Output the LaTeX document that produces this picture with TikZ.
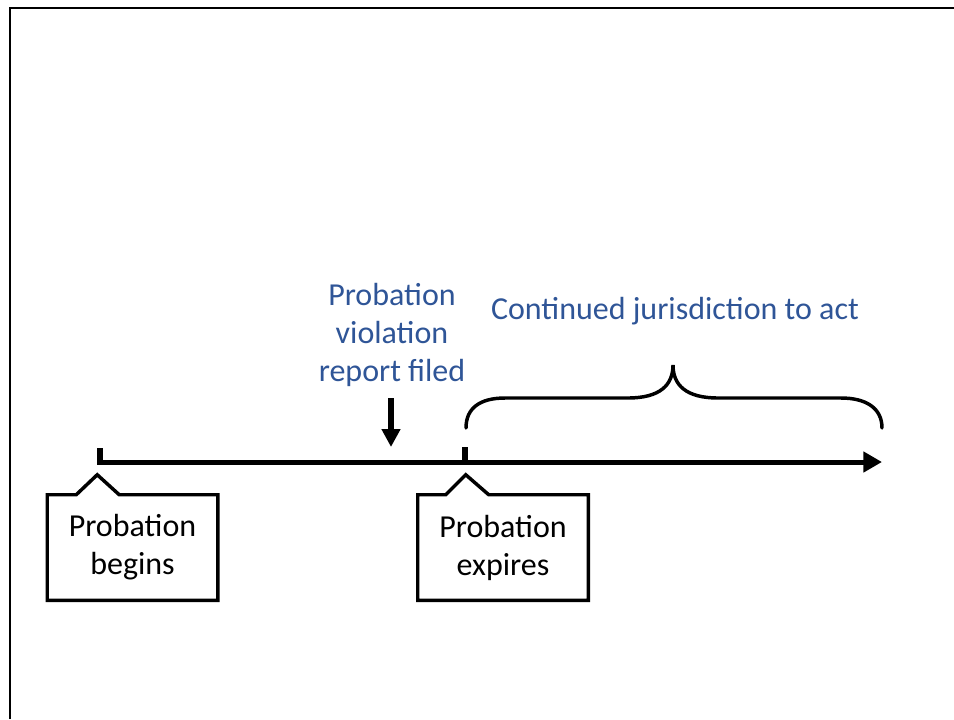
\documentclass[tikz,border=0pt]{standalone}
\usepackage{fontspec}
\setmainfont{Carlito}
\usetikzlibrary{arrows.meta,positioning}
\definecolor{noteblue}{RGB}{47,85,151}
\tikzset{
  tag/.style={minimum width=127.5pt,minimum height=78.75pt,align=center,inner sep=0pt},
  note/.style={text=noteblue,align=center,inner sep=0pt},
  outline/.style={line width=2.6pt,line join=miter},
}
\begin{document}
\begin{tikzpicture}[x=0.75pt,y=-0.75pt,font=\fontsize{24}{28.5}\selectfont]
  \useasboundingbox (0,0) rectangle (954,719);
  % frame
  \draw[line width=2.2pt] (10,719) -- (10,8) -- (954,8);
  % timeline
  \coordinate (start) at (100,462);
  \coordinate (expiry) at (465,462);
  \coordinate (future) at (882,462);
  \draw[line width=3.75pt,-{Triangle[length=14pt,width=15pt]}] ([xshift=-2.25pt]start) -- (future);
  \draw[line width=4.5pt] (start) -- ++(0,-14);
  \draw[line width=4.5pt] (expiry) -- ++(0,-15);
  % callouts
  \node[tag] (begins) at (132.5,547.5) {Probation\\begins};
  \draw[outline] (begins.north west) -- ++(29,0) -- ++(21,-20) -- ++(22,20) -- (begins.north east) -- (begins.south east) -- (begins.south west) -- cycle;
  \node[tag] (expires) at (503,547.5) {Probation\\expires};
  \draw[outline] (expires.north west) -- ++(28,0) -- ++(20,-20) -- ++(23,20) -- (expires.north east) -- (expires.south east) -- (expires.south west) -- cycle;
  % violation report
  \node[note] (violation) at (392,335) {Probation\\violation\\report filed};
  \coordinate (filedtop) at (391,398);
  \coordinate (filed) at (391,447);
  \draw[line width=4.5pt,-{Triangle[length=13.5pt,width=13.5pt]}] (filedtop) -- (filed);
  % jurisdiction brace
  \node[note] (jurisdiction) at (675,311) {Continued jurisdiction to act};
  \draw[line width=2.6pt,line cap=round] (466,428) .. controls (466,408) and (480,398) .. (505,398) -- (628,398)
    .. controls (660,398) and (673,385) .. (673,365) .. controls (673,385) and (686,398) .. (718,398)
    -- (841,398) .. controls (866,398) and (882,408) .. (882,428);
\end{tikzpicture}
\end{document}
